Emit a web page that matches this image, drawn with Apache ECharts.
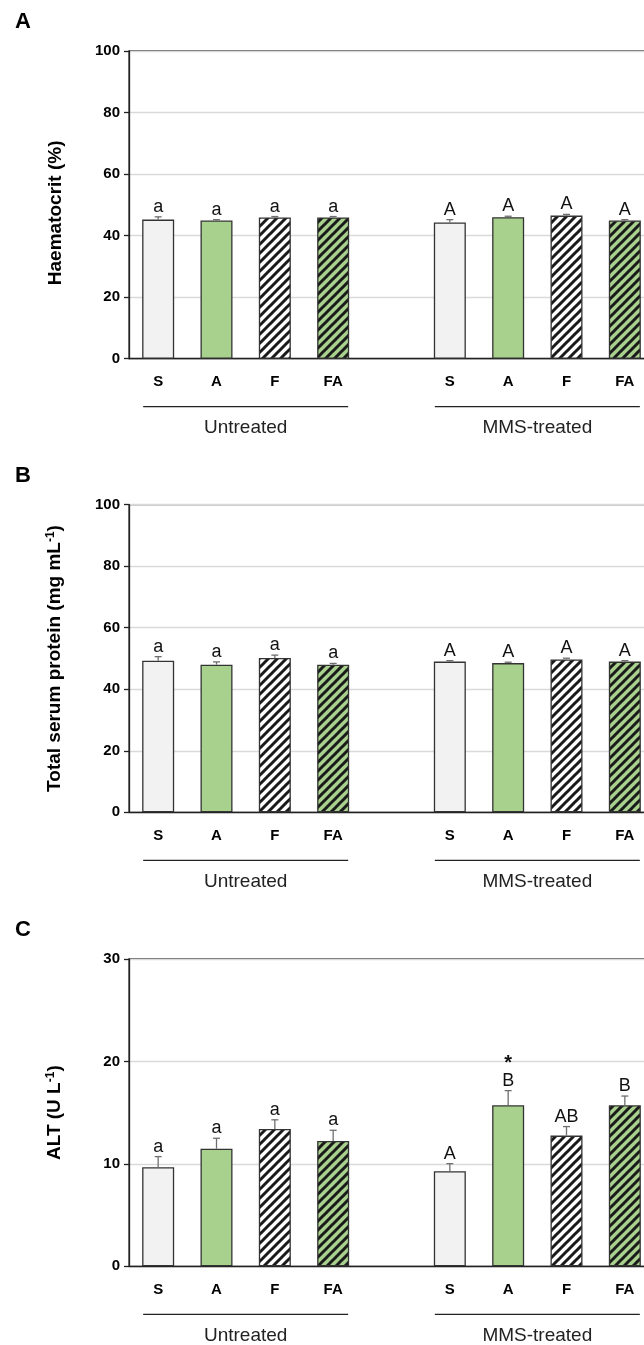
<!DOCTYPE html>
<html>
<head>
<meta charset="utf-8">
<title>Haematocrit, total serum protein and ALT</title>
<script src="https://cdn.jsdelivr.net/npm/echarts@6/dist/echarts.min.js"></script>
<style>
  html, body { margin: 0; padding: 0; background: #ffffff; overflow: hidden; }
  #wrap { width: 644px; height: 1345px; overflow: hidden; }
  /* the plot frame runs on past the right edge, so the canvas is a little wider than the page */
  #chart { width: 654px; height: 1345px; }
</style>
</head>
<body>
<div id="wrap"><div id="chart"></div></div>
<script>
// ---- data ----
const groupNames = ['Untreated', 'MMS-treated'];
const treatments = ['S', 'A', 'F', 'FA'];

// Haematocrit (%)
const hctUntreated = [45.2, 44.9, 45.9, 45.9];
const hctUntreatedErr = [0.9, 0.3, 0.3, 0.3];
const hctMMS = [44.3, 46.0, 46.5, 44.9];
const hctMMSErr = [0.9, 0.3, 0.4, 0.3];
const hctLettersUntreated = ['a', 'a', 'a', 'a'];
const hctLettersMMS = ['A', 'A', 'A', 'A'];

// Total serum protein (mg mL-1)
const tspUntreated = [49.3, 48.0, 50.2, 48.0];
const tspUntreatedErr = [1.3, 0.9, 0.9, 0.4];
const tspMMS = [49.0, 48.5, 49.7, 49.0];
const tspMMSErr = [0.3, 0.3, 0.4, 0.3];
const tspLettersUntreated = ['a', 'a', 'a', 'a'];
const tspLettersMMS = ['A', 'A', 'A', 'A'];

// ALT (U L-1)
const altUntreated = [9.67, 11.48, 13.4, 12.24];
const altUntreatedErr = [1.04, 1.02, 0.9, 1.04];
const altMMS = [9.28, 15.72, 12.76, 15.72];
const altMMSErr = [0.74, 1.43, 0.88, 0.9];
const altLettersUntreated = ['a', 'a', 'a', 'a'];
const altLettersMMS = ['A', 'B', 'AB', 'B'];
const altStarsMMS = ['', '*', '', ''];

// y axis scales
const hctTicks = { min: 0, max: 100, interval: 20 };
const tspTicks = { min: 0, max: 100, interval: 20 };
const altTicks = { min: 0, max: 30, interval: 10 };

// ---- styling ----
const FONT = '"Liberation Sans", Arial, Helvetica, sans-serif';

function hatch(bg) {
  const s = 9;
  const c = document.createElement('canvas');
  c.width = s; c.height = s;
  const g = c.getContext('2d');
  g.fillStyle = bg;
  g.fillRect(0, 0, s, s);
  g.strokeStyle = '#1a1a1a';
  g.lineWidth = 3;
  g.lineCap = 'square';
  for (const k of [-s, 0, s]) {
    g.beginPath();
    g.moveTo(k, s);
    g.lineTo(k + s, 0);
    g.stroke();
  }
  return { image: c, repeat: 'repeat' };
}

const fills = ['#f2f2f2', '#a9d18e', hatch('#ffffff'), hatch('#a9d18e')];
const xCategories = [...treatments, '', ...treatments];

const panels = [
  {
    letter: 'A', top: 51, height: 307.7, ticks: hctTicks,
    title: 'Haematocrit (%)', titlePad: [0, 16, 0, 0],
    u: hctUntreated, ue: hctUntreatedErr, m: hctMMS, me: hctMMSErr,
    ul: hctLettersUntreated, ml: hctLettersMMS, ms: ['', '', '', '']
  },
  {
    letter: 'B', top: 504.7, height: 307.6, ticks: tspTicks,
    title: 'Total serum protein (mg mL{sup|-1})', titlePad: [0, 0, 0, 0],
    u: tspUntreated, ue: tspUntreatedErr, m: tspMMS, me: tspMMSErr,
    ul: tspLettersUntreated, ml: tspLettersMMS, ms: ['', '', '', '']
  },
  {
    letter: 'C', top: 959, height: 307.3, ticks: altTicks,
    title: 'ALT (U L{sup|-1})', titlePad: [0, 0, 0, 0],
    u: altUntreated, ue: altUntreatedErr, m: altMMS, me: altMMSErr,
    ul: altLettersUntreated, ml: altLettersMMS, ms: altStarsMMS
  }
];

const grids = [], xAxes = [], yAxes = [], series = [];

panels.forEach((p, i) => {
  grids.push({
    left: 129, right: 0, top: p.top, height: p.height,
    show: true, borderColor: '#333333', borderWidth: 1.3,
    backgroundColor: 'transparent', containLabel: false
  });
  xAxes.push({
    type: 'category', gridIndex: i, data: xCategories,
    axisLine: { lineStyle: { color: '#222222', width: 1.3 } },
    axisTick: { show: false },
    axisLabel: {
      interval: 0, margin: 16, color: '#000000',
      fontFamily: FONT, fontWeight: 'bold', fontSize: 15
    },
    splitLine: { show: false }
  });
  yAxes.push({
    type: 'value', gridIndex: i,
    min: p.ticks.min, max: p.ticks.max, interval: p.ticks.interval,
    name: p.title, nameLocation: 'middle', nameGap: 64,
    nameTextStyle: {
      fontFamily: FONT, fontWeight: 'bold', fontSize: 19, color: '#000000',
      padding: p.titlePad,
      rich: {
        sup: { fontFamily: FONT, fontWeight: 'bold', fontSize: 12, color: '#000000', verticalAlign: 'top', padding: [0, 0, 8, 0] }
      }
    },
    axisLine: { show: true, lineStyle: { color: '#222222', width: 1.3 } },
    axisTick: { show: true, inside: false, length: 5, lineStyle: { color: '#222222', width: 1.3 } },
    axisLabel: {
      margin: 9, color: '#000000',
      fontFamily: FONT, fontWeight: 'bold', fontSize: 15
    },
    splitLine: { show: true, lineStyle: { color: '#d9d9d9', width: 1.3 } }
  });

  const barData = [];
  p.u.forEach((v, k) => barData.push({ value: v, itemStyle: { color: fills[k] } }));
  barData.push('-');
  p.m.forEach((v, k) => barData.push({ value: v, itemStyle: { color: fills[k] } }));

  series.push({
    type: 'bar', xAxisIndex: i, yAxisIndex: i,
    data: barData, barWidth: 32,
    itemStyle: { borderColor: '#333333', borderWidth: 1.3 },
    silent: true, animation: false, z: 2
  });

  const errData = [], letters = [], stars = [];
  p.u.forEach((v, k) => { errData.push([k, v, p.ue[k]]); letters.push(p.ul[k]); stars.push(''); });
  p.m.forEach((v, k) => { errData.push([5 + k, v, p.me[k]]); letters.push(p.ml[k]); stars.push(p.ms[k]); });

  series.push({
    type: 'custom', xAxisIndex: i, yAxisIndex: i,
    data: errData, encode: { x: 0, y: 1 },
    silent: true, animation: false, z: 5,
    renderItem: (params, api) => {
      const x = api.value(0), v = api.value(1), e = api.value(2);
      const base = api.coord([x, v]);
      const tip = api.coord([x, v + e]);
      const cap = 3.5;
      const kids = [
        { type: 'line', shape: { x1: base[0], y1: base[1], x2: tip[0], y2: tip[1] },
          style: { stroke: '#6f6f6f', lineWidth: 1.3 } },
        { type: 'line', shape: { x1: tip[0] - cap, y1: tip[1], x2: tip[0] + cap, y2: tip[1] },
          style: { stroke: '#6f6f6f', lineWidth: 1.3 } },
        { type: 'text',
          style: { text: letters[params.dataIndex], x: tip[0], y: tip[1] - 1,
                   align: 'center', verticalAlign: 'bottom',
                   fontFamily: FONT, fontSize: 18, fill: '#111111' } }
      ];
      if (stars[params.dataIndex]) {
        kids.push({ type: 'text',
          style: { text: stars[params.dataIndex], x: tip[0], y: tip[1] - 17,
                   align: 'center', verticalAlign: 'bottom',
                   fontFamily: FONT, fontWeight: 'bold', fontSize: 20, fill: '#111111' } });
      }
      return { type: 'group', children: kids };
    }
  });
});

const chart = echarts.init(document.getElementById('chart'), null, { renderer: 'canvas' });
chart.setOption({
  animation: false,
  backgroundColor: '#ffffff',
  grid: grids, xAxis: xAxes, yAxis: yAxes, series: series
});

// panel letters, group underlines and group names
const graphics = [];
panels.forEach((p, i) => {
  const axisY = chart.convertToPixel({ yAxisIndex: i }, 0);
  graphics.push({
    type: 'text', left: 15, top: p.top - 40,
    style: { text: p.letter, fontFamily: FONT, fontWeight: 'bold', fontSize: 22, fill: '#000000' }
  });
  [[0, 3], [5, 8]].forEach((r, g) => {
    const x0 = chart.convertToPixel({ xAxisIndex: i }, r[0]);
    const x1 = chart.convertToPixel({ xAxisIndex: i }, r[1]);
    graphics.push({
      type: 'line',
      shape: { x1: x0 - 15, y1: axisY + 48, x2: x1 + 15, y2: axisY + 48 },
      style: { stroke: '#222222', lineWidth: 1.3 }
    });
    graphics.push({
      type: 'text',
      x: (x0 + x1) / 2, y: axisY + 69,
      style: { text: groupNames[g], align: 'center', verticalAlign: 'middle',
               fontFamily: FONT, fontSize: 19, fill: '#222222' }
    });
  });
});
chart.setOption({ graphic: graphics });
</script>
</body>
</html>
